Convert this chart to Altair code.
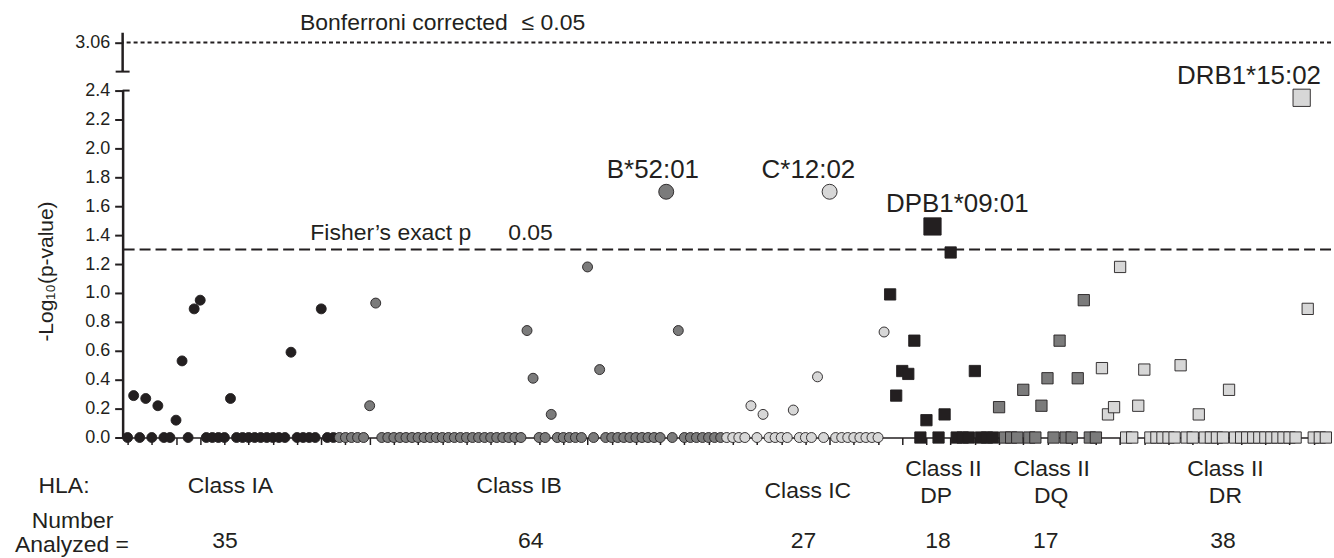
import altair as alt
import pandas as pd

INK = "#231f20"
FONT = "Liberation Sans"

# ---------------- data ----------------
classes = ["Class IA", "Class IB", "Class IC", "Class II DP", "Class II DQ", "Class II DR"]
counts = [35, 64, 27, 18, 17, 38]
shapes = ["circle", "circle", "circle", "square", "square", "square"]
fills = ["#231f20", "#7b7b7b", "#d7d7d7", "#231f20", "#7b7b7b", "#d7d7d7"]

# alleles with a non-zero -log10(p): position in the ordered allele list, value
ia_pos = [1, 3, 5, 8, 9, 11, 12, 17, 27, 32]
ia_val = [0.29, 0.27, 0.22, 0.12, 0.53, 0.89, 0.95, 0.27, 0.59, 0.89]
ib_pos = [40, 41, 66, 67, 70, 76, 78, 89, 91]
ib_val = [0.22, 0.93, 0.74, 0.41, 0.16, 1.18, 0.47, 1.70, 0.74]
ic_pos = [103, 105, 110, 114, 116, 125]
ic_val = [0.22, 0.16, 0.19, 0.42, 1.70, 0.73]
dp_pos = [126, 127, 128, 129, 130, 132, 133, 135, 136, 140]
dp_val = [0.99, 0.29, 0.46, 0.44, 0.67, 0.12, 1.46, 0.16, 1.28, 0.46]
dq_pos = [144, 148, 151, 152, 154, 157, 158]
dq_val = [0.21, 0.33, 0.22, 0.41, 0.67, 0.41, 0.95]
dr_pos = [161, 162, 163, 164, 167, 168, 174, 177, 182, 194, 195]
dr_val = [0.48, 0.16, 0.21, 1.18, 0.22, 0.47, 0.50, 0.16, 0.33, 2.35, 0.89]

top_alleles = ["B*52:01", "C*12:02", "DPB1*09:01", "DRB1*15:02"]
top_pos = [89, 116, 133, 194]
top_val = [1.70, 1.70, 1.46, 2.35]
top_label_x = [86.8, 112.5, 137.1, 185.3]

fisher_p = 0.05
fisher_line = 1.3          # -log10(0.05)
bonferroni_line = 3.06

y_ticks = [0.0, 0.2, 0.4, 0.6, 0.8, 1.0, 1.2, 1.4, 1.6, 1.8, 2.0, 2.2, 2.4]
x_ticks = list(range(0, 200, 4))

bottom_texts = ["HLA:", "Class IA", "Class IB", "Class IC",
                "Class II", "DP", "Class II", "DQ", "Class II", "DR",
                "Number", "Analyzed =", "35", "64", "27", "18", "17", "38"]
bottom_x = [-10.5, 17.0, 64.7, 112.4,
            134.8, 133.6, 152.7, 152.6, 181.4, 181.4,
            -9.1, -9.2, 16.1, 66.6, 111.7, 133.9, 151.7, 181.0]
bottom_y = [-0.386, -0.386, -0.386, -0.421,
            -0.269, -0.455, -0.269, -0.455, -0.269, -0.455,
            -0.626, -0.790, -0.766, -0.766, -0.766, -0.766, -0.766, -0.766]

# marker areas (px^2)
marker_area = {"circle": 100, "circle_big": 225, "square": 128, "square_big": 300}

# ---------------- build table ----------------
all_pos = [ia_pos, ib_pos, ic_pos, dp_pos, dq_pos, dr_pos]
all_val = [ia_val, ib_val, ic_val, dp_val, dq_val, dr_val]
rows = []
start = 0
for cls, n, shp, pl, vl in zip(classes, counts, shapes, all_pos, all_val):
    lookup = dict(zip(pl, vl))
    for p in range(start, start + n):
        mk = shp + ("_big" if p in top_pos else "")
        rows.append({"pos": p, "val": lookup.get(p, 0.0), "cls": cls,
                     "shape": shp, "area": marker_area[mk]})
    start += n
df = pd.DataFrame(rows)

W = 1212
xscale = alt.Scale(domain=[-0.82, 198.85], nice=False, zero=False)
yscale = alt.Scale(domain=[0, 2.4], nice=False, zero=False)
PX = 0.00205
top_scale = alt.Scale(domain=[3.0, 3.0 + 71 * PX], nice=False, zero=False)

x_axis = alt.Axis(values=x_ticks, labels=False, ticks=True, tickSize=7, tickWidth=1.5,
                  tickColor=INK, domainColor=INK, domainWidth=1.5, grid=False, title=None)
y_axis = alt.Axis(values=y_ticks, format=".1f", labelOverlap=False, tickSize=8, tickWidth=2,
                  tickColor=INK, domainColor=INK, domainWidth=2.5, labelFontSize=18,
                  labelColor=INK, labelPadding=5, labelFont=FONT, grid=False,
                  title="-Log\u2081\u2080(p-value)", titleFont=FONT, titleFontSize=21,
                  titleFontWeight="normal", titleColor=INK, titleX=-76, titleY=181,
                  titleAngle=270, titleAlign="center", titleBaseline="middle")
top_axis = alt.Axis(values=[bonferroni_line], format=".2f", labelOverlap=False, domain=False,
                    tickSize=8, tickWidth=2, tickColor=INK, labelFontSize=18, labelColor=INK,
                    labelPadding=5, labelFont=FONT, grid=False, title=None)


def bx(field):
    return alt.X(field, scale=xscale, axis=x_axis)


def by(field):
    return alt.Y(field, scale=yscale, axis=y_axis)


def tx(field):
    return alt.X(field, scale=xscale, axis=None)


def ty(field):
    return alt.Y(field, scale=top_scale, axis=top_axis)


# ---------------- bottom panel ----------------
fisher = alt.Chart(pd.DataFrame({"y": [fisher_line]})).mark_rule(
    color=INK, strokeWidth=2, strokeDash=[11, 5]).encode(y=by("y:Q"))

points = alt.Chart(df).mark_point(filled=True, opacity=1, stroke=INK, strokeWidth=0.9).encode(
    x=bx("pos:Q"),
    y=by("val:Q"),
    shape=alt.Shape("shape:N", scale=alt.Scale(domain=["circle", "square"], range=["circle", "square"]), legend=None),
    fill=alt.Fill("cls:N", scale=alt.Scale(domain=classes, range=fills), legend=None),
    size=alt.Size("area:Q", scale=None),
)

fisher_txt = alt.Chart(pd.DataFrame({"x": [30.2, 62.9], "y": [fisher_line, fisher_line],
                                     "t": ["Fisher\u2019s exact p", f"{fisher_p:.2f}"]})).mark_text(
    align="left", baseline="alphabetic", dy=-10, font=FONT, fontSize=23, color=INK).encode(
    x=bx("x:Q"), y=by("y:Q"), text="t:N")

hl = alt.Chart(pd.DataFrame({"x": top_label_x, "y": top_val, "t": top_alleles})).mark_text(
    align="center", baseline="alphabetic", dy=-14, font=FONT, fontSize=26, color=INK).encode(
    x=bx("x:Q"), y=by("y:Q"), text="t:N")

labels = alt.Chart(pd.DataFrame({"x": bottom_x, "y": bottom_y, "t": bottom_texts})).mark_text(
    align="center", baseline="alphabetic", font=FONT, fontSize=23, color=INK).encode(
    x=bx("x:Q"), y=by("y:Q"), text="t:N")

cap_bottom = alt.Chart(pd.DataFrame({"y": [2.4]})).mark_rule(color=INK, strokeWidth=2).encode(
    x=alt.value(0), x2=alt.value(7), y=by("y:Q"))

bottom = alt.layer(fisher, points, fisher_txt, hl, labels, cap_bottom).properties(width=W, height=348)

# ---------------- top panel (axis break) ----------------
bonf = alt.Chart(pd.DataFrame({"y": [bonferroni_line]})).mark_rule(
    color=INK, strokeWidth=2, strokeDash=[4, 3]).encode(y=ty("y:Q"))

bonf_txt = alt.Chart(pd.DataFrame({"x": [28.5, 65.1], "y": [bonferroni_line, bonferroni_line],
                                   "t": ["Bonferroni corrected", "\u2264 0.05"]})).mark_text(
    align="left", baseline="alphabetic", dy=-12, font=FONT, fontSize=23, color=INK).encode(
    x=tx("x:Q"), y=ty("y:Q"), text="t:N")

seg = alt.Chart(pd.DataFrame({"y": [3.0], "y2": [3.0 + 39 * PX]})).mark_rule(color=INK, strokeWidth=2.5).encode(
    x=alt.value(0), y=ty("y:Q"), y2="y2:Q")

cap_top = alt.Chart(pd.DataFrame({"y": [3.0]})).mark_rule(color=INK, strokeWidth=2).encode(
    x=alt.value(-7), x2=alt.value(7), y=ty("y:Q"))

top = alt.layer(bonf, bonf_txt, seg, cap_top).properties(width=W, height=71)

chart = alt.vconcat(top, bottom, spacing=19, bounds="flush").properties(
    padding={"left": 14, "top": 0, "right": 0, "bottom": 0}, background="white"
).configure_view(strokeWidth=0).resolve_scale(y="independent")

chart.save("out.html", embed_options={"renderer": "svg", "actions": False})
